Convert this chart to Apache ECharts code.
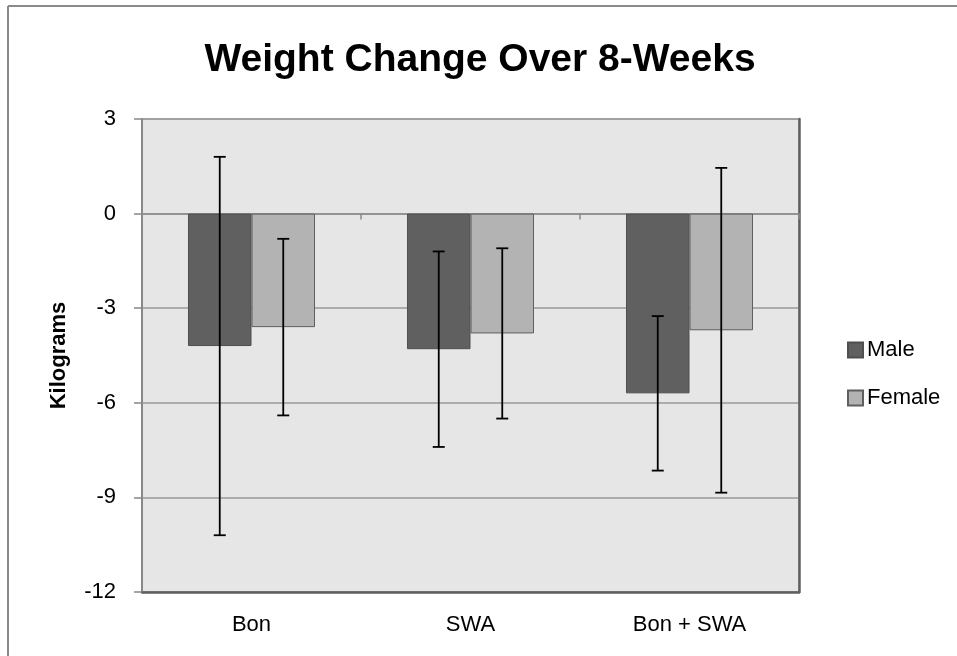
<!DOCTYPE html>
<html>
<head>
<meta charset="utf-8">
<script src="https://cdn.jsdelivr.net/npm/echarts@6/dist/echarts.min.js"></script>
<style>
  html, body { margin: 0; padding: 0; background: #fff; }
  #main { width: 957px; height: 656px; }
</style>
</head>
<body>
<div id="main"></div>
<script>
// data
var categories = ['Bon', 'SWA', 'Bon + SWA'];
var maleMean = [-4.2, -4.3, -5.7];
var femaleMean = [-3.6, -3.8, -3.7];
var maleErrHigh = [1.8, -1.2, -3.25];
var maleErrLow = [-10.2, -7.4, -8.15];
var femaleErrHigh = [-0.8, -1.1, 1.45];
var femaleErrLow = [-6.4, -6.5, -8.85];
var yTicks = [-12, -9, -6, -3, 0, 3];

var FONT = '"Liberation Sans", Arial, sans-serif';
var catGap = 0.42;

// error bars: [catIndex, low, high, side(-1 male, 1 female)]
var errData = [];
for (var i = 0; i < categories.length; i++) {
  errData.push([i, maleErrLow[i], maleErrHigh[i], -1]);
  errData.push([i, femaleErrLow[i], femaleErrHigh[i], 1]);
}

function renderErr(params, api) {
  var idx = api.value(0);
  var lo = api.coord([idx, api.value(1)]);
  var hi = api.coord([idx, api.value(2)]);
  var band = api.size([1, 0])[0];
  var barW = band * (1 - catGap) / 2;
  var x = lo[0] + api.value(3) * barW / 2;
  var cap = 6;
  var style = { stroke: '#000', lineWidth: 1.8 };
  return {
    type: 'group',
    children: [
      { type: 'line', shape: { x1: x, y1: hi[1], x2: x, y2: lo[1] }, style: style },
      { type: 'line', shape: { x1: x - cap, y1: hi[1], x2: x + cap, y2: hi[1] }, style: style },
      { type: 'line', shape: { x1: x - cap, y1: lo[1], x2: x + cap, y2: lo[1] }, style: style }
    ]
  };
}

var myChart = echarts.init(document.getElementById('main'));
var option = {
  animation: false,
  title: {
    text: 'Weight Change Over 8-Weeks',
    left: 475,
    textAlign: 'center',
    top: 36,
    textStyle: { fontFamily: FONT, fontSize: 39, fontWeight: 'bold', color: '#000' }
  },
  legend: {
    orient: 'vertical',
    left: 842,
    top: 334,
    icon: 'rect',
    itemWidth: 15,
    itemHeight: 15,
    itemGap: 26,
    data: ['Male', 'Female'],
    textStyle: { fontFamily: FONT, fontSize: 22, color: '#000', lineHeight: 15, padding: [0, 0, 0, -1] }
  },
  grid: {
    left: 142, right: 158, top: 119, bottom: 64,
    show: true,
    backgroundColor: '#e6e6e6',
    borderColor: '#888',
    borderWidth: 1
  },
  graphic: [
    { type: 'line', shape: { x1: 8, y1: 6, x2: 957, y2: 6 }, style: { stroke: '#8a8a8a', lineWidth: 2 } },
    { type: 'line', shape: { x1: 8, y1: 6, x2: 8, y2: 656 }, style: { stroke: '#8a8a8a', lineWidth: 2 } }
  ],
  xAxis: [
    {
      // axis line drawn across zero
      type: 'category',
      data: categories,
      axisLine: { onZero: true, onZeroAxisIndex: 0, lineStyle: { color: '#8a8a8a', width: 1.5 } },
      axisTick: { show: true, length: 6, lineStyle: { color: '#8a8a8a', width: 1.5 } },
      axisLabel: { show: false },
      splitLine: { show: false }
    },
    {
      // labels at the bottom
      type: 'category',
      data: categories,
      position: 'bottom',
      axisLine: { onZero: false, show: true, lineStyle: { color: '#5f5f5f', width: 2.5 } },
      axisTick: { show: false },
      axisLabel: { fontFamily: FONT, fontSize: 22, color: '#000', margin: 22 },
      splitLine: { show: false }
    }
  ],
  yAxis: [
    {
      type: 'value',
      min: -12,
      max: 3,
      interval: 3,
      name: 'Kilograms',
      nameLocation: 'middle',
      nameGap: 72,
      nameTextStyle: { fontFamily: FONT, fontSize: 22, fontWeight: 'bold', color: '#000' },
      axisLine: { show: true, lineStyle: { color: '#888', width: 2 } },
      axisTick: { show: true, length: 8, lineStyle: { color: '#888', width: 1.5 } },
      axisLabel: {
        fontFamily: FONT, fontSize: 22, color: '#000', margin: 26,
        formatter: function (v) { return yTicks.indexOf(v) >= 0 ? String(v) : ''; }
      },
      splitLine: { show: true, lineStyle: { color: '#989898', width: 1.5 } }
    },
    {
      // dark right edge of the plot
      type: 'value',
      position: 'right',
      min: -12,
      max: 3,
      interval: 3,
      axisLine: { show: true, lineStyle: { color: '#5f5f5f', width: 2.5 } },
      axisTick: { show: false },
      axisLabel: { show: false },
      splitLine: { show: false }
    }
  ],
  series: [
    {
      name: 'Male',
      type: 'bar',
      data: maleMean,
      barGap: '0%',
      barCategoryGap: (catGap * 100) + '%',
      itemStyle: { color: '#606060', borderColor: '#4f4f4f', borderWidth: 1 }
    },
    {
      name: 'Female',
      type: 'bar',
      data: femaleMean,
      barGap: '0%',
      barCategoryGap: (catGap * 100) + '%',
      itemStyle: { color: '#b3b3b3', borderColor: '#5f5f5f', borderWidth: 1 }
    },
    {
      name: 'err',
      type: 'custom',
      renderItem: renderErr,
      data: errData,
      z: 10,
      silent: true
    }
  ]
};
myChart.setOption(option);
</script>
</body>
</html>
